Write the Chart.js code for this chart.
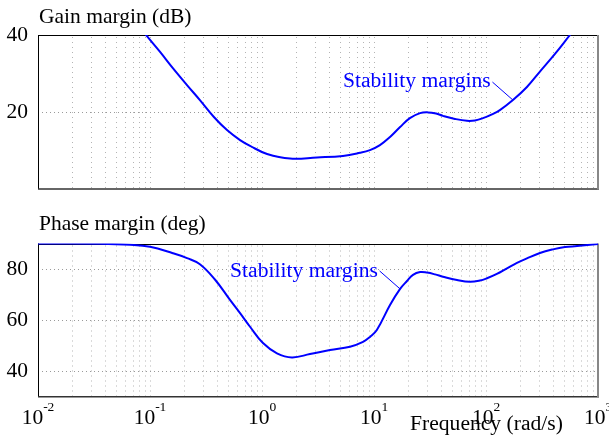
<!DOCTYPE html>
<html><head><meta charset="utf-8">
<script src="https://cdn.jsdelivr.net/npm/chart.js@4/dist/chart.umd.min.js"></script>
<style>
html,body{margin:0;padding:0;background:#fff;}
#wrap{position:relative;width:609px;height:437px;overflow:hidden;background:#fff;}
.box{position:absolute;left:0;width:609px;}
</style></head><body>
<div id="wrap">
<div class="box" style="top:0;height:200px"><canvas id="c1" width="609" height="200"></canvas></div>
<div class="box" style="top:200px;height:237px"><canvas id="c2" width="609" height="237"></canvas></div>
</div>
<script>
// ---- data ----
const gainFreq = [0.069, 0.094, 0.123, 0.160, 0.214, 0.279, 0.372, 0.487, 0.637, 0.782, 1.11, 1.78, 3.10, 5.28, 7.50, 9.20, 11.3, 13.9, 17.1, 20.9, 25.8, 30.3, 35.8, 41.3, 52.8, 67.6, 79.8, 94.0, 113, 133, 174, 232, 303, 413, 562, 766];
const gainDb   = [44.7, 39.7, 35.6, 31.4, 27.0, 23.1, 18.7, 15.3, 12.7, 11.2, 9.1, 7.9, 8.2, 8.6, 9.4, 10.1, 11.4, 13.5, 16.1, 18.4, 19.7, 19.9, 19.6, 19.0, 18.2, 17.7, 17.8, 18.4, 19.4, 20.5, 23.1, 26.5, 30.5, 35.1, 40.0, 44.9];

const phaseFreq = [0.01, 0.0358, 0.0663, 0.1, 0.160, 0.214, 0.279, 0.380, 0.518, 0.637, 0.782, 1.02, 1.36, 1.85, 2.68, 4.05, 6.11, 7.98, 9.20, 10.6, 13.9, 17.1, 19.7, 22.3, 25.8, 29.7, 35.1, 41.3, 55.1, 71.9, 88.3, 102, 125, 154, 189, 232, 303, 396, 507, 650, 1000];
const phaseDeg  = [90, 89.9, 89.5, 88.7, 86.2, 84.3, 81.9, 75.9, 67.9, 62.7, 57.4, 51.0, 47.0, 45.4, 46.7, 48.3, 49.6, 51.5, 53.4, 56.1, 65.9, 72.2, 75.3, 77.7, 78.8, 78.6, 77.9, 77.0, 75.7, 75.0, 75.5, 76.4, 78.1, 80.3, 82.4, 84.2, 86.3, 87.7, 88.6, 89.0, 89.8];

const xDecades   = [-2, -1, 0, 1, 2, 3];
const gainTicks  = [20, 40];
const phaseTicks = [40, 60, 80];
const gainTitle  = 'Gain margin (dB)';
const phaseTitle = 'Phase margin (deg)';
const xTitle     = 'Frequency (rad/s)';
const annText    = 'Stability margins';
const gainAnchor  = [174, 23.1];   // point on curve where leader ends
const phaseAnchor = [17.1, 72.2];

const FONT = '"Liberation Serif", "Times New Roman", serif';
const BLUE = '#0000ff';

function gridValues(){
  const t = [];
  for (let e = -2; e < 3; e++) for (let m = 1; m < 10; m++) t.push(m * Math.pow(10, e));
  t.push(1000);
  return t;
}

function makePlugin(cfg){
  return {
    id: 'deco',
    beforeDatasetsDraw(chart){
      const {ctx, chartArea: a, scales: {x, y}} = chart;
      ctx.save();
      ctx.lineWidth = 1;
      ctx.strokeStyle = '#b4b4b4';
      ctx.setLineDash([1, 4]);
      for (const v of gridValues()){
        const px = Math.round(x.getPixelForValue(v)) + 0.5;
        ctx.beginPath(); ctx.moveTo(px, a.top + 2); ctx.lineTo(px, a.bottom); ctx.stroke();
      }
      ctx.strokeStyle = '#9a9a9a';
      ctx.setLineDash([1, 3]);
      for (const v of cfg.yTicks){
        const py = Math.round(y.getPixelForValue(v)) + 0.5;
        ctx.beginPath(); ctx.moveTo(a.left, py); ctx.lineTo(a.right, py); ctx.stroke();
      }
      ctx.setLineDash([]);
      ctx.strokeStyle = '#000'; ctx.lineWidth = 1;
      ctx.beginPath();
      ctx.moveTo(a.left, Math.round(a.top) + 0.5); ctx.lineTo(a.right, Math.round(a.top) + 0.5);
      ctx.moveTo(Math.round(a.left) + 0.5, a.top); ctx.lineTo(Math.round(a.left) + 0.5, a.bottom);
      ctx.stroke();
      ctx.strokeStyle = '#333'; ctx.lineWidth = 1.5;
      ctx.beginPath(); ctx.moveTo(a.left, a.bottom); ctx.lineTo(a.right + 1, a.bottom); ctx.stroke();
      ctx.strokeStyle = '#888'; ctx.lineWidth = 2;
      ctx.beginPath(); ctx.moveTo(a.right, a.top); ctx.lineTo(a.right, a.bottom + 0.5); ctx.stroke();
      ctx.restore();
    },
    afterDraw(chart){
      const {ctx, chartArea: a, scales: {x, y}} = chart;
      ctx.save();
      ctx.fillStyle = '#000';
      ctx.textBaseline = 'alphabetic';
      ctx.textAlign = 'left';
      ctx.font = '21.5px ' + FONT;
      ctx.fillText(cfg.title, 39, a.top - cfg.titleGap);
      const ax = x.getPixelForValue(cfg.anchor[0]);
      const ay = y.getPixelForValue(cfg.anchor[1]);
      ctx.fillStyle = BLUE;
      ctx.font = '21.6px ' + FONT;
      ctx.fillText(annText, ax - 170, ay - cfg.textRise);
      ctx.strokeStyle = BLUE; ctx.lineWidth = 1;
      ctx.beginPath(); ctx.moveTo(ax - 20.5, ay - 18); ctx.lineTo(ax, ay); ctx.stroke();
      if (cfg.xLabels){
        ctx.fillStyle = '#000';
        for (const e of xDecades){
          const px = x.getPixelForValue(Math.pow(10, e));
          ctx.font = '21.5px ' + FONT;
          const w1 = ctx.measureText('10').width;
          const ex = String(e);
          ctx.font = '13.5px ' + FONT;
          const w2 = ctx.measureText(ex).width;
          const left = px - (w1 + w2) / 2;
          ctx.font = '21.5px ' + FONT;
          ctx.fillText('10', left, a.bottom + 27);
          ctx.font = '13.5px ' + FONT;
          ctx.fillText(ex, left + w1, a.bottom + 14.5);
        }
        ctx.font = '21.6px ' + FONT;
        ctx.fillText(xTitle, 410, a.bottom + 33.5);
      }
      ctx.restore();
    }
  };
}

function makeChart(id, freq, vals, ymin, ymax, yTicks, pad, plugCfg){
  const data = freq.map((f, i) => ({x: f, y: vals[i]}));
  return new Chart(document.getElementById(id), {
    type: 'line',
    data: {datasets: [{data, borderColor: BLUE, borderWidth: 2, pointRadius: 0, fill: false, tension: 0.4}]},
    options: {
      responsive: false, animation: false, events: [],
      layout: {padding: pad},
      plugins: {legend: {display: false}, tooltip: {enabled: false}, title: {display: false}},
      scales: {
        x: {type: 'logarithmic', min: 0.01, max: 1000,
            ticks: {display: false}, grid: {display: false, drawTicks: false}, border: {display: false},
            afterFit(s){ s.height = 0; s.paddingLeft = 0; s.paddingRight = 0; }},
        y: {type: 'linear', min: ymin, max: ymax,
            ticks: {font: {family: FONT, size: 21.5}, color: '#000', padding: 10},
            afterBuildTicks(s){ s.ticks = yTicks.map(v => ({value: v})); },
            grid: {display: false, drawTicks: false}, border: {display: false},
            afterFit(s){ s.width = 38; s.paddingTop = 0; s.paddingBottom = 0; }}
      }
    },
    plugins: [makePlugin(Object.assign({yTicks}, plugCfg))]
  });
}

makeChart('c1', gainFreq, gainDb, 0, 40, gainTicks,
  {left: 0, right: 11, top: 35, bottom: 11},
  {title: gainTitle, titleGap: 12, anchor: gainAnchor, textRise: 13, xLabels: false});

makeChart('c2', phaseFreq, phaseDeg, 30, 90, phaseTicks,
  {left: 0, right: 11, top: 43.5, bottom: 40.3},
  {title: phaseTitle, titleGap: 13.5, anchor: phaseAnchor, textRise: 12, xLabels: true});
</script>
</body></html>
